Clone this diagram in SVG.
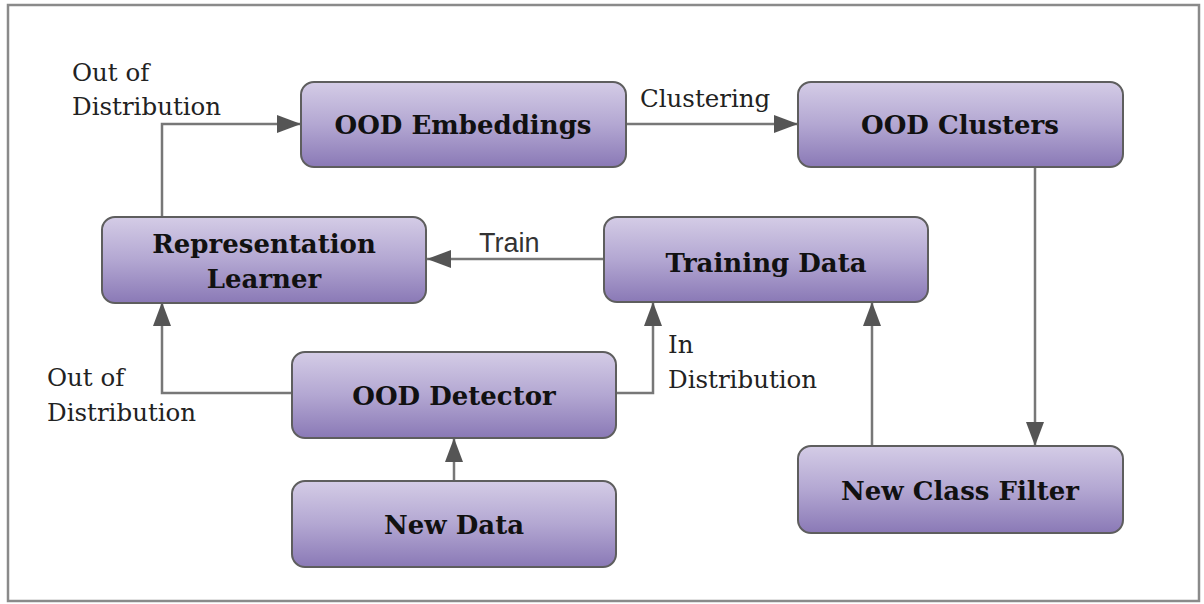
<svg xmlns="http://www.w3.org/2000/svg" width="1204" height="604" viewBox="0 0 1204 604">
  <defs>
    <linearGradient id="boxFill" x1="0" y1="0" x2="0" y2="1">
      <stop offset="0" stop-color="#d4cce6"/>
      <stop offset="0.5" stop-color="#b3a7d2"/>
      <stop offset="1" stop-color="#8a79b6"/>
    </linearGradient>
    <marker id="arrow" viewBox="0 0 24 18" refX="24" refY="9" markerWidth="24" markerHeight="18" markerUnits="userSpaceOnUse" orient="auto">
      <path d="M0,0 L24,9 L0,18 Z" fill="#555"/>
    </marker>
    <style>
      .box { fill: url(#boxFill); stroke: #5e5e5e; stroke-width: 2; }
      .boxText { font-family: "DejaVu Serif", "Liberation Serif", serif; font-weight: bold; font-size: 26px; fill: #111; text-anchor: middle; }
      .edge { fill: none; stroke: #777; stroke-width: 2.5; }
      .lbl { font-family: "DejaVu Serif", "Liberation Serif", serif; font-size: 24.5px; fill: #222; }
      .lblSans { font-family: "Liberation Sans", Arial, sans-serif; font-size: 27px; fill: #333; }
    </style>
  </defs>

  <rect x="0" y="0" width="1204" height="604" fill="#fff"/>
  <rect x="8" y="5" width="1191" height="596" fill="none" stroke="#8a8a8a" stroke-width="2.5"/>

  <!-- connectors -->
  <g id="connectors">
    <path class="edge" d="M162,216 V124 H301" marker-end="url(#arrow)"/>
    <path class="edge" d="M626,124 H798" marker-end="url(#arrow)"/>
    <path class="edge" d="M1035,167 V446" marker-end="url(#arrow)"/>
    <path class="edge" d="M872,446 V302" marker-end="url(#arrow)"/>
    <path class="edge" d="M604,259 H427" marker-end="url(#arrow)"/>
    <path class="edge" d="M292,393 H162 V302" marker-end="url(#arrow)"/>
    <path class="edge" d="M616,393 H653 V302" marker-end="url(#arrow)"/>
    <path class="edge" d="M454,481 V438" marker-end="url(#arrow)"/>
    <text class="lbl" x="72" y="81">Out of</text>
    <text class="lbl" x="72" y="115">Distribution</text>
    <text class="lbl" x="640" y="107">Clustering</text>
    <text class="lblSans" x="479" y="252">Train</text>
    <text class="lbl" x="668" y="353">In</text>
    <text class="lbl" x="668" y="388">Distribution</text>
    <text class="lbl" x="47" y="386">Out of</text>
    <text class="lbl" x="47" y="421">Distribution</text>
  </g>

  <g id="ood-embeddings">
    <rect class="box" x="301" y="82" width="325" height="85" rx="13"/>
    <text class="boxText" x="463" y="134">OOD Embeddings</text>
  </g>
  <g id="ood-clusters">
    <rect class="box" x="798" y="82" width="325" height="85" rx="13"/>
    <text class="boxText" x="960" y="134">OOD Clusters</text>
  </g>
  <g id="representation-learner">
    <rect class="box" x="102" y="217" width="324" height="86" rx="13"/>
    <text class="boxText" x="264" y="253">Representation</text>
    <text class="boxText" x="264" y="288">Learner</text>
  </g>
  <g id="training-data">
    <rect class="box" x="604" y="217" width="324" height="85" rx="13"/>
    <text class="boxText" x="766" y="272">Training Data</text>
  </g>
  <g id="ood-detector">
    <rect class="box" x="292" y="352" width="324" height="86" rx="13"/>
    <text class="boxText" x="454" y="405">OOD Detector</text>
  </g>
  <g id="new-data">
    <rect class="box" x="292" y="481" width="324" height="86" rx="13"/>
    <text class="boxText" x="454" y="534">New Data</text>
  </g>
  <g id="new-class-filter">
    <rect class="box" x="798" y="446" width="325" height="87" rx="13"/>
    <text class="boxText" x="960" y="500">New Class Filter</text>
  </g>
</svg>
